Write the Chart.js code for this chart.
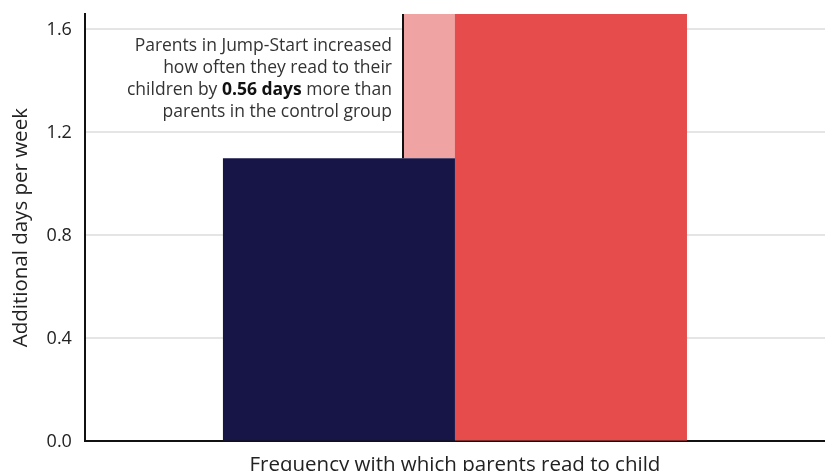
<!DOCTYPE html>
<html>
<head>
<meta charset="utf-8">
<script src="https://cdn.jsdelivr.net/npm/chart.js@4.4.1/dist/chart.umd.min.js"></script>
<style>
  html, body { margin: 0; padding: 0; background: #ffffff; overflow: hidden; }
  #wrap { width: 825px; height: 488px; position: relative; }
</style>
</head>
<body>
<div id="wrap"><canvas id="c"></canvas></div>
<script>
const categories = ['Frequency with which parents read to child'];
const controlValues = [1.10];
const jumpStartValues = [1.66];
const differenceValues = [0.56];
const yTicks = [0, 0.4, 0.8, 1.2, 1.6];
const noteLines = [
  [{t: 'Parents in Jump-Start increased', b: false}],
  [{t: 'how often they read to their', b: false}],
  [{t: 'children by ', b: false}, {t: '0.56 days', b: true}, {t: ' more than', b: false}],
  [{t: 'parents in the control group', b: false}]
];

const FONT = "'Open Sans', 'DejaVu Sans', sans-serif";

const annotationPlugin = {
  id: 'diffAnnotation',
  beforeDatasetsDraw(chart) {
    const ctx = chart.ctx;
    const y = chart.scales.y;
    const redBar = chart.getDatasetMeta(1).data[0];
    const lineX = 403;
    const top = y.getPixelForValue(controlValues[0] + differenceValues[0]);
    const bottom = y.getPixelForValue(controlValues[0]);
    ctx.save();
    ctx.fillStyle = '#F0A3A3';
    ctx.fillRect(lineX, top, redBar.x + redBar.width / 2 - lineX, bottom - top);
    ctx.restore();
  },
  afterDatasetsDraw(chart) {
    const ctx = chart.ctx;
    const y = chart.scales.y;
    const lineX = 403;
    const top = y.getPixelForValue(controlValues[0] + differenceValues[0]);
    const bottom = y.getPixelForValue(controlValues[0]);
    ctx.save();
    ctx.strokeStyle = '#111111';
    ctx.lineWidth = 2;
    ctx.beginPath();
    ctx.moveTo(lineX, top);
    ctx.lineTo(lineX, bottom);
    ctx.stroke();
    const rightX = 392;
    let baseY = 46;
    ctx.textBaseline = 'middle';
    noteLines.forEach(parts => {
      let widths = parts.map(p => {
        ctx.font = (p.b ? '700 ' : '400 ') + '17.5px ' + FONT;
        return ctx.measureText(p.t).width;
      });
      let total = widths.reduce((a, b) => a + b, 0);
      let x = rightX - total;
      parts.forEach((p, i) => {
        ctx.font = (p.b ? '700 ' : '400 ') + '17.5px ' + FONT;
        ctx.fillStyle = p.b ? '#111111' : '#333333';
        ctx.textAlign = 'left';
        ctx.fillText(p.t, x, baseY);
        x += widths[i];
      });
      baseY += 22;
    });
    ctx.restore();
  }
};

new Chart(document.getElementById('c'), {
  type: 'bar',
  data: {
    labels: categories,
    datasets: [
      {
        label: 'Control group',
        data: controlValues,
        backgroundColor: '#171447',
        categoryPercentage: 0.627,
        barPercentage: 1.0,
        borderWidth: 0
      },
      {
        label: 'Jump-Start',
        data: jumpStartValues,
        backgroundColor: '#E64C4C',
        categoryPercentage: 0.627,
        barPercentage: 1.0,
        borderWidth: 0
      }
    ]
  },
  options: {
    responsive: true,
    maintainAspectRatio: false,
    animation: false,
    layout: { padding: { top: 14, right: 0, left: 9, bottom: 0 } },
    plugins: {
      legend: { display: false },
      tooltip: { enabled: false }
    },
    scales: {
      x: {
        grid: { display: false, drawTicks: false },
        border: { display: true, color: '#111111', width: 2 },
        ticks: {
          color: '#222222',
          padding: 11,
          font: { family: FONT, size: 20.5 }
        }
      },
      y: {
        min: 0,
        max: 1.66,
        z: 1,
        afterBuildTicks: (scale) => { scale.ticks = yTicks.map(v => ({ value: v })); },
        grid: { color: 'rgba(0,0,0,0.1)', lineWidth: 2, drawTicks: false },
        border: { display: true, color: '#111111', width: 2 },
        ticks: {
          color: '#222222',
          padding: 13,
          font: { family: FONT, size: 18, lineHeight: 0.05 },
          callback: (v) => Number(v).toFixed(1)
        },
        title: {
          display: true,
          text: 'Additional days per week',
          color: '#222222',
          font: { family: FONT, size: 20.5 },
          padding: { top: 0, bottom: 0 }
        }
      }
    }
  },
  plugins: [annotationPlugin]
});
</script>
</body>
</html>
